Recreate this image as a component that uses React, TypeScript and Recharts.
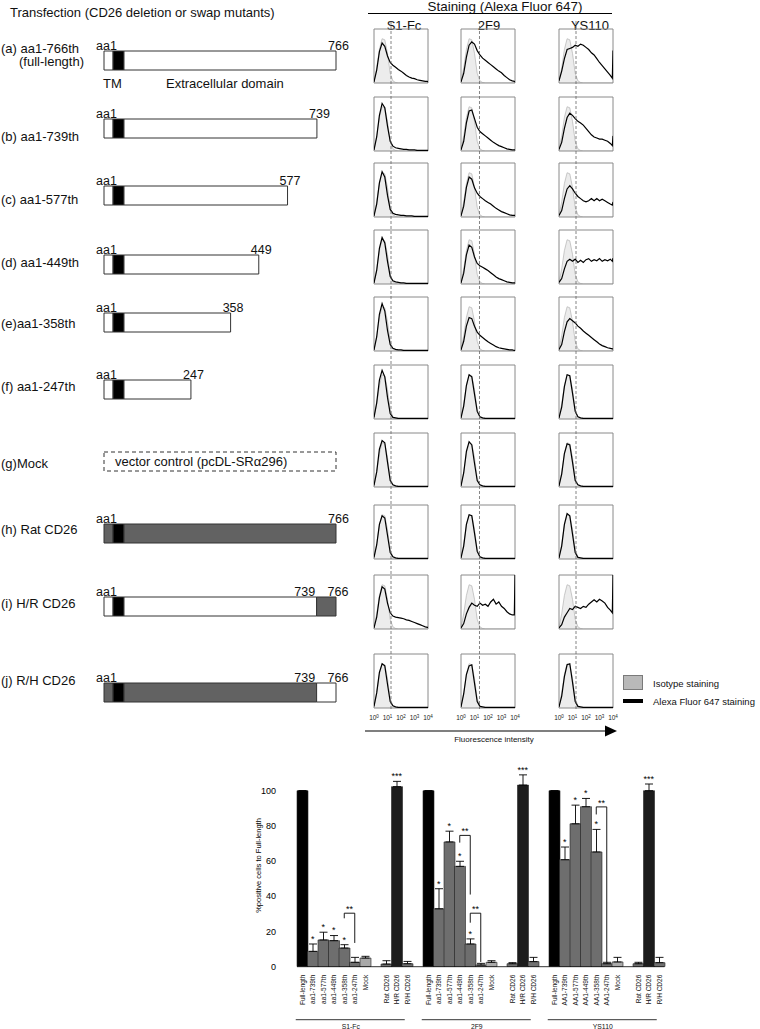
import React from 'react';
import {
  BarChart, Bar, XAxis, YAxis, Cell, LabelList, ErrorBar, ReferenceLine, ReferenceDot,
  ComposedChart, Area, Line, ReferenceArea, LineChart,
} from 'recharts';

const FONT = '"Liberation Sans", Arial, Helvetica, sans-serif';

// ---------- bar chart: % positive cells relative to full-length ----------
const groupNames = ['S1-Fc', '2F9', 'YS110'];
const labelsS1Fc = ['Full-length', 'aa1-739th', 'aa1-577th', 'aa1-449th', 'aa1-358th', 'aa1-247th', 'Mock', '', 'Rat CD26', 'H/R CD26', 'R/H CD26', ''];
const labels2F9 = ['Full-length', 'aa1-739th', 'aa1-577th', 'aa1-449th', 'aa1-358th', 'aa1-247th', 'Mock', '', 'Rat CD26', 'H/R CD26', 'R/H CD26', ''];
const labelsYS110 = ['Full-length', 'AA1-739th', 'AA1-577th', 'AA1-449th', 'AA1-358th', 'AA1-247th', 'Mock', '', 'Rat CD26', 'H/R CD26', 'R/H CD26'];
const barKinds = ['full', 'mutant', 'mutant', 'mutant', 'mutant', 'mutant', 'mock', 'gap', 'rat', 'hr', 'rh', 'gap'];

const valuesS1Fc = [100, 8.7, 15.2, 14.8, 10.6, 2.5, 4.9, null, 1.5, 102.3, 1.7, null];
const errorsS1Fc = [0, 4.2, 4.4, 2.9, 1.9, 2.8, 1.0, null, 1.9, 3.0, 1.3, null];
const values2F9 = [100, 32.9, 70.9, 57.0, 12.9, 1.0, 2.5, null, 1.7, 103.2, 2.9, null];
const errors2F9 = [0, 11.4, 6.1, 2.9, 2.9, 0.9, 0.9, null, 0.6, 5.8, 2.4, null];
const valuesYS110 = [100, 60.8, 81.2, 90.9, 65.2, 1.7, 2.7, null, 1.7, 100, 2.3];
const errorsYS110 = [0, 7.2, 10.6, 4.7, 12.8, 0.8, 2.6, null, 0.8, 3.8, 3.0];

const singleStarIdx = [1, 2, 3, 4];
const tripleStarIdx = 9;
const brackets = [
  { group: 0, from: 4, to: 5, top: 30.4, leftEnd: 27.5, rightEnd: 13.5 },
  { group: 1, from: 3, to: 4, top: 74.6, leftEnd: 70.5, rightEnd: 41 },
  { group: 1, from: 4, to: 5, top: 30.4, leftEnd: 25, rightEnd: 2.7 },
  { group: 2, from: 4, to: 5, top: 90.8, leftEnd: 86.5, rightEnd: 2.5 },
];

const barColors: Record<string, string> = {
  full: '#000000', mutant: '#6e6e6e', mock: '#a9a9a9', rat: '#707070', hr: '#1c1c1c', rh: '#707070', gap: 'none',
};

const groupLabels = [labelsS1Fc, labels2F9, labelsYS110];
const groupValues = [valuesS1Fc, values2F9, valuesYS110];
const groupErrors = [errorsS1Fc, errors2F9, errorsYS110];

const barRows = groupNames.flatMap((g, gi) =>
  groupLabels[gi].map((label, i) => ({
    id: `${g}-${i}`,
    label,
    kind: barKinds[i],
    value: groupValues[gi][i],
    err: groupErrors[gi][i] == null ? null : [0, groupErrors[gi][i] as number],
    groupLabel: i === 5 ? g : '',
  })),
);
const rowById = (id: string) => barRows.find((r) => r.id === id);

// ---------- schematic constructs ----------
const constructLabels = ['(a) aa1-766th', '(b) aa1-739th', '(c) aa1-577th', '(d) aa1-449th', '(e)aa1-358th', '(f) aa1-247th', '(g)Mock', '(h) Rat CD26', '(i) H/R CD26', '(j) R/H CD26'];
const constructEndLabels = ['766', '739', '577', '449', '358', '247', '', '766', '766', '766'];
// end of each construct on the drawn schematic scale (full length box = 766)
const constructDrawnEnd = [766, 703, 606, 511, 418, 287, 766, 766, 766, 766];
const constructBody = ['H', 'H', 'H', 'H', 'H', 'H', 'mock', 'R', 'H', 'R'];
const constructTail = ['', '', '', '', '', '', '', '', 'R', 'H'];
const tmDrawn = [30, 66];
const swapDrawn = 702;
const swapLabel = '739';

// ---------- flow cytometry histograms (x = log10 intensity) ----------
const histBins = [0, 0.2, 0.4, 0.6, 0.8, 1, 1.2, 1.4, 1.6, 1.8, 2, 2.2, 2.4, 2.6, 2.8, 3, 3.2, 3.4, 3.6, 3.8, 3.95, 4];
const isotypeCounts = [3, 28, 62, 82, 80, 55, 18, 4, 1, 0, 0, 0, 0, 0, 0, 0, 0, 0, 0, 0, 0, 0];
const stainS1Fc = [
  [2, 24, 58, 74, 68, 50, 38, 33, 29, 25, 22, 18, 14, 11, 9, 8, 6, 5, 4, 3, 3, 2],
  [2, 26, 66, 88, 80, 46, 18, 9, 6, 5, 4, 3, 3, 2, 2, 2, 1, 1, 1, 1, 1, 1],
  [2, 24, 63, 84, 74, 40, 14, 7, 5, 4, 3, 3, 2, 2, 2, 1, 1, 1, 1, 1, 1, 1],
  [2, 25, 66, 86, 76, 42, 14, 6, 4, 3, 2, 2, 1, 1, 1, 1, 1, 1, 1, 1, 1, 1],
  [2, 26, 68, 88, 74, 38, 12, 5, 3, 2, 2, 1, 1, 1, 1, 1, 1, 1, 1, 1, 1, 1],
  [3, 30, 72, 90, 78, 40, 10, 3, 2, 1, 1, 1, 1, 1, 1, 1, 1, 1, 1, 1, 1, 1],
  [3, 28, 70, 86, 82, 46, 12, 4, 2, 1, 1, 1, 1, 1, 1, 1, 1, 1, 1, 1, 1, 1],
  [3, 26, 64, 80, 76, 44, 12, 4, 2, 1, 1, 1, 1, 1, 1, 1, 1, 1, 1, 1, 1, 1],
  [2, 22, 58, 78, 74, 48, 30, 24, 22, 21, 20, 19, 17, 16, 14, 12, 10, 8, 6, 4, 3, 3],
  [3, 28, 66, 82, 78, 44, 12, 4, 2, 1, 1, 1, 1, 1, 1, 1, 1, 1, 1, 1, 1, 1],
];
const stain2F9 = [
  [2, 18, 48, 70, 76, 72, 60, 52, 46, 42, 38, 34, 30, 26, 22, 19, 14, 10, 6, 4, 3, 2],
  [2, 18, 52, 74, 76, 60, 44, 36, 32, 28, 24, 20, 16, 13, 10, 8, 6, 4, 3, 2, 2, 2],
  [2, 20, 55, 74, 70, 54, 44, 38, 34, 30, 27, 24, 20, 16, 13, 10, 8, 6, 4, 3, 3, 3],
  [2, 20, 54, 72, 68, 50, 38, 34, 31, 28, 25, 21, 17, 13, 10, 8, 6, 4, 3, 2, 2, 2],
  [2, 18, 46, 62, 60, 46, 35, 29, 25, 21, 17, 14, 11, 8, 6, 5, 4, 3, 2, 2, 1, 1],
  [2, 24, 62, 82, 78, 46, 14, 4, 2, 1, 1, 1, 1, 1, 1, 1, 1, 1, 1, 1, 1, 1],
  [2, 26, 66, 84, 78, 44, 12, 4, 2, 1, 1, 1, 1, 1, 1, 1, 1, 1, 1, 1, 1, 1],
  [2, 24, 64, 82, 80, 48, 14, 4, 2, 1, 1, 1, 1, 1, 1, 1, 1, 1, 1, 1, 1, 1],
  [2, 10, 28, 40, 48, 44, 42, 48, 44, 46, 42, 50, 55, 46, 50, 42, 38, 32, 28, 26, 26, 100],
  [2, 26, 62, 78, 80, 46, 12, 3, 2, 1, 1, 1, 1, 1, 1, 1, 1, 1, 1, 1, 1, 1],
];
const stainYS110 = [
  [4, 22, 45, 62, 64, 66, 70, 68, 72, 70, 66, 62, 56, 52, 45, 38, 32, 26, 20, 14, 9, 60],
  [3, 16, 42, 62, 70, 66, 60, 55, 52, 48, 42, 36, 30, 26, 24, 22, 22, 20, 18, 14, 10, 28],
  [3, 12, 34, 52, 58, 52, 44, 38, 34, 30, 28, 30, 34, 30, 34, 30, 33, 30, 27, 24, 22, 28],
  [3, 10, 28, 42, 46, 42, 46, 40, 44, 40, 45, 47, 42, 45, 43, 47, 42, 45, 43, 46, 42, 48],
  [3, 12, 36, 54, 60, 56, 52, 46, 42, 37, 33, 29, 25, 21, 17, 13, 10, 8, 6, 5, 4, 4],
  [2, 22, 60, 82, 80, 48, 14, 4, 2, 1, 1, 1, 1, 1, 1, 1, 1, 1, 1, 1, 1, 1],
  [2, 24, 62, 80, 78, 46, 12, 4, 2, 1, 1, 1, 1, 1, 1, 1, 1, 1, 1, 1, 1, 1],
  [2, 24, 64, 84, 80, 46, 12, 3, 2, 1, 1, 1, 1, 1, 1, 1, 1, 1, 1, 1, 1, 1],
  [2, 8, 22, 30, 38, 36, 42, 40, 38, 42, 40, 46, 50, 54, 50, 55, 52, 48, 40, 35, 30, 100],
  [2, 22, 58, 80, 82, 48, 12, 3, 2, 1, 1, 1, 1, 1, 1, 1, 1, 1, 1, 1, 1, 1],
];
const stainByColumn = [stainS1Fc, stain2F9, stainYS110];
const gateLog = [1.26, 1.37, 1.26];
const decadeTicks = [0, 1, 2, 3, 4];

// layout
const schematicCenters = [59.5, 127.8, 194.8, 263.7, 322, 389.2, 461, 533, 606.4, 691.7];
const rowLabelY = [48, 136, 199, 262, 323, 386, 463, 529, 603, 680];
const histTops = [29, 97, 163, 230, 297, 365, 433, 505, 575, 654];
const histCols = [374, 461, 559];
const HS = 54;

const fillOf = (k: string) => (k === 'R' ? '#626262' : '#ffffff');

const SchematicRow = ({ i }: { i: number }) => {
  const body = constructBody[i];
  const tail = constructTail[i];
  const end = constructDrawnEnd[i];
  const cy = schematicCenters[i];
  const common = { stackId: 's', stroke: '#333', strokeWidth: 1, isAnimationActive: false };
  let data: any[];
  if (body === 'mock') {
    data = [{ name: 'c', mock: end }];
  } else {
    const bodyEnd = tail ? swapDrawn : end;
    data = [{ name: 'c', pre: tmDrawn[0], tm: tmDrawn[1] - tmDrawn[0], body: bodyEnd - tmDrawn[1], tail: tail ? end - swapDrawn : 0 }];
  }
  return (
    <div style={{ position: 'absolute', left: 90, top: cy - 20 }}>
      <BarChart width={276} height={40} data={data} layout="vertical" margin={{ top: 0, right: 30, bottom: 0, left: 14 }} barSize={19}>
        <XAxis type="number" domain={[0, 766]} hide />
        <YAxis type="category" dataKey="name" hide />
        {body === 'mock' ? (
          <Bar dataKey="mock" {...common} fill="#ffffff" strokeDasharray="4 3">
            <LabelList dataKey="mock" content={(p: any) => (
              <text x={p.x + 11} y={p.y + p.height / 2} dominantBaseline="central" fontSize={13} fontFamily={FONT} fill="#111">vector control (pcDL-SRα296)</text>
            )} />
          </Bar>
        ) : null}
        {body !== 'mock' ? (
          <Bar dataKey="pre" {...common} fill={fillOf(body)}>
            <LabelList dataKey="pre" content={(p: any) => (
              <text x={p.x - 8} y={p.y - 1.5} fontSize={12.5} fontFamily={FONT} fill="#111">aa1</text>
            )} />
          </Bar>
        ) : null}
        {body !== 'mock' ? <Bar dataKey="tm" {...common} fill="#000000" /> : null}
        {body !== 'mock' ? (
          <Bar dataKey="body" {...common} fill={fillOf(body)}>
            <LabelList dataKey="body" content={(p: any) => (
              <text x={tail ? p.x + p.width - 1.5 : p.x + p.width + 2.5} y={p.y - 1.5} textAnchor={tail ? 'end' : 'middle'} fontSize={12.5} fontFamily={FONT} fill="#111">
                {tail ? swapLabel : constructEndLabels[i]}
              </text>
            )} />
          </Bar>
        ) : null}
        {tail ? (
          <Bar dataKey="tail" {...common} fill={fillOf(tail)}>
            <LabelList dataKey="tail" content={(p: any) => (
              <text x={p.x + p.width + 2} y={p.y - 1.5} textAnchor="middle" fontSize={12.5} fontFamily={FONT} fill="#111">{constructEndLabels[i]}</text>
            )} />
          </Bar>
        ) : null}
      </BarChart>
    </div>
  );
};

const DecadeTick = ({ x, y, payload }: any) => (
  <text x={x} y={y + 4} textAnchor="middle" fontSize={6.5} fontFamily={FONT} fill="#222">
    10<tspan dy={-2.5} fontSize={4.5}>{payload.value}</tspan>
  </text>
);

const Histogram = ({ col, row }: { col: number; row: number }) => {
  const stain = stainByColumn[col][row];
  const data = histBins.map((b, k) => ({ x: b, iso: isotypeCounts[k], stain: stain[k] }));
  const withAxis = row === 9;
  return (
    <div style={{ position: 'absolute', left: histCols[col] - 1, top: histTops[row] - 1 }}>
      <ComposedChart width={HS + 2} height={HS + 2 + (withAxis ? 16 : 0)} data={data} margin={{ top: 1, right: 1, bottom: 1, left: 1 }}>
        <XAxis dataKey="x" type="number" domain={[0, 4]} ticks={decadeTicks} interval={0} hide={!withAxis} height={16}
          axisLine={false} tickLine={false} tick={<DecadeTick />} allowDataOverflow />
        <YAxis domain={[0, 100]} hide allowDataOverflow />
        <Area dataKey="iso" type="linear" fill="#ececec" fillOpacity={1} stroke="#a8a8a8" strokeWidth={0.6} dot={false} isAnimationActive={false} />
        <Line dataKey="stain" type="linear" stroke="#000" strokeWidth={1.2} dot={false} isAnimationActive={false} />
        <ReferenceArea x1={0} x2={4} y1={0} y2={100} fill="none" fillOpacity={0} stroke="#8a8a8a" strokeWidth={1} ifOverflow="visible" />
      </ComposedChart>
    </div>
  );
};

// dashed gate spanning all rows of one antibody column
const GateLine = ({ col }: { col: number }) => (
  <div style={{ position: 'absolute', left: histCols[col] - 1, top: 19, pointerEvents: 'none' }}>
    <LineChart width={HS + 2} height={691} data={[{ x: 0, y: 0 }, { x: 4, y: 0 }]} margin={{ top: 1, right: 1, bottom: 1, left: 1 }}>
      <XAxis dataKey="x" type="number" domain={[0, 4]} hide />
      <YAxis domain={[0, 1]} hide />
      <Line dataKey="y" stroke="none" dot={false} isAnimationActive={false} />
      <ReferenceLine x={gateLog[col]} stroke="#666" strokeDasharray="3 2" strokeWidth={0.8} />
    </LineChart>
  </div>
);

const BarTick = ({ x, y, payload }: any) => {
  const row = rowById(payload.value);
  if (!row || !row.label) return null;
  return (
    <text x={x} y={y} transform={`rotate(-90, ${x}, ${y})`} textAnchor="end" dominantBaseline="central" fontSize={6.5} fontFamily={FONT} fill="#111">
      {row.label}
    </text>
  );
};

const GroupTick = ({ x, y, payload }: any) => {
  const row = rowById(payload.value);
  if (!row || !row.groupLabel) return null;
  return (
    <g>
      <line x1={x - 59} x2={x + 50} y1={y - 5} y2={y - 5} stroke="#000" strokeWidth={0.8} />
      <text x={x - 4} y={y + 1.5} textAnchor="middle" dominantBaseline="central" fontSize={6.8} fontFamily={FONT} fill="#111">{row.groupLabel}</text>
    </g>
  );
};

const errTop = (gi: number, i: number) => (groupValues[gi][i] as number) + (groupErrors[gi][i] as number);

const PositiveCellsChart = () => (
  <div style={{ position: 'absolute', left: 240, top: 750 }}>
    <BarChart width={440} height={279} data={barRows} margin={{ top: 14.3, right: 15.5, bottom: 0, left: 0 }} barCategoryGap={0} barGap={0}>
      <XAxis dataKey="id" interval={0} height={50} tick={<BarTick />} tickLine={false} axisLine={{ stroke: '#000', strokeWidth: 0.8 }} />
      <XAxis xAxisId="grp" dataKey="id" interval={0} height={12.3} tick={<GroupTick />} tickLine={false} axisLine={false} />
      <YAxis domain={[0, 115]} ticks={[0, 20, 40, 60, 80, 100]} width={57} axisLine={false} tickLine={false} tickMargin={15}
        tick={{ fontSize: 9, fill: '#000', fontFamily: FONT }} allowDataOverflow
        label={{ value: '%positive cells to Full-length', angle: -90, position: 'insideLeft', offset: 18, style: { textAnchor: 'middle' }, fontSize: 7.5, fill: '#000', fontFamily: FONT }} />
      <Bar dataKey="value" isAnimationActive={false} stroke="#222" strokeWidth={0.6}>
        {barRows.map((r) => <Cell key={r.id} fill={barColors[r.kind]} />)}
        <ErrorBar dataKey="err" width={4} stroke="#000" strokeWidth={0.9} direction="y" />
      </Bar>
      {groupNames.flatMap((g, gi) =>
        singleStarIdx.map((i) => (
          <ReferenceDot key={`s-${g}-${i}`} x={`${g}-${i}`} y={errTop(gi, i) + 3} r={1} fill="none" stroke="none" ifOverflow="visible"
            label={{ value: '*', position: 'center', fontSize: 9, fill: '#000', fontFamily: FONT }} />
        )),
      )}
      {groupNames.map((g, gi) => (
        <ReferenceDot key={`t-${g}`} x={`${g}-${tripleStarIdx}`} y={errTop(gi, tripleStarIdx) + 3} r={1} fill="none" stroke="none" ifOverflow="visible"
          label={{ value: '***', position: 'center', fontSize: 9, fill: '#000', fontFamily: FONT }} />
      ))}
      {brackets.flatMap((b, bi) => {
        const a = `${groupNames[b.group]}-${b.from}`;
        const c = `${groupNames[b.group]}-${b.to}`;
        return [
          <ReferenceLine key={`bh${bi}`} segment={[{ x: a, y: b.top }, { x: c, y: b.top }]} stroke="#000" strokeWidth={0.9} ifOverflow="visible"
            label={{ value: '**', position: 'top', offset: 1, fontSize: 9, fill: '#000', fontFamily: FONT }} />,
          <ReferenceLine key={`bl${bi}`} segment={[{ x: a, y: b.top }, { x: a, y: b.leftEnd }]} stroke="#000" strokeWidth={0.9} ifOverflow="visible" />,
          <ReferenceLine key={`br${bi}`} segment={[{ x: c, y: b.top }, { x: c, y: b.rightEnd }]} stroke="#000" strokeWidth={0.9} ifOverflow="visible" />,
        ];
      })}
    </BarChart>
  </div>
);

const colTitles = ['S1-Fc', '2F9', 'YS110'];
const colTitleX = [404, 489, 590];

export default function App() {
  const rows = constructLabels.map((_, i) => i);
  return (
    <div style={{ position: 'absolute', left: 0, top: 0, width: 760, height: 1029, overflow: 'hidden', background: '#fff', fontFamily: FONT }}>
      <style>{'.recharts-surface{overflow:visible}'}</style>
      <svg width={760} height={1029} style={{ position: 'absolute', left: 0, top: 0 }} fontFamily={FONT} fill="#111">
        <text x={10} y={12.5} fontSize={13} dominantBaseline="central">Transfection (CD26 deletion or swap mutants)</text>
        {constructLabels.map((s, i) => (
          <text key={s} x={1} y={rowLabelY[i]} fontSize={13} dominantBaseline="central">{s}</text>
        ))}
        <text x={19} y={61} fontSize={13} dominantBaseline="central">(full-length)</text>
        <text x={103} y={83.3} fontSize={13} dominantBaseline="central">TM</text>
        <text x={166} y={83.3} fontSize={13} dominantBaseline="central">Extracellular domain</text>

        <text x={505} y={6.5} fontSize={13.4} textAnchor="middle" dominantBaseline="central">Staining (Alexa Fluor 647)</text>
        <line x1={368} x2={612} y1={13.5} y2={13.5} stroke="#000" strokeWidth={1} />
        {colTitles.map((s, i) => (
          <text key={s} x={colTitleX[i]} y={25} fontSize={13} textAnchor="middle" dominantBaseline="central">{s}</text>
        ))}

        <rect x={623.5} y={675.5} width={19} height={14} fill="#b9b9b9" stroke="#7a7a7a" strokeWidth={1} />
        <text x={653} y={683} fontSize={9.5} dominantBaseline="central">Isotype staining</text>
        <rect x={623} y={699} width={20} height={4} fill="#000" />
        <text x={653} y={701} fontSize={9.5} dominantBaseline="central">{'Alexa Fluor 647  staining'}</text>

        <line x1={365} x2={606} y1={731} y2={731} stroke="#000" strokeWidth={1.2} />
        <polygon points="605,725.5 617,731 605,736.5" fill="#000" />
        <text x={494} y={739} fontSize={8} textAnchor="middle" dominantBaseline="central">Fluorescence intensity</text>
      </svg>

      {rows.map((i) => <SchematicRow key={`sc${i}`} i={i} />)}
      {rows.map((r) => [0, 1, 2].map((c) => <Histogram key={`h${r}-${c}`} col={c} row={r} />))}
      {[0, 1, 2].map((c) => <GateLine key={`g${c}`} col={c} />)}
      <PositiveCellsChart />
    </div>
  );
}
